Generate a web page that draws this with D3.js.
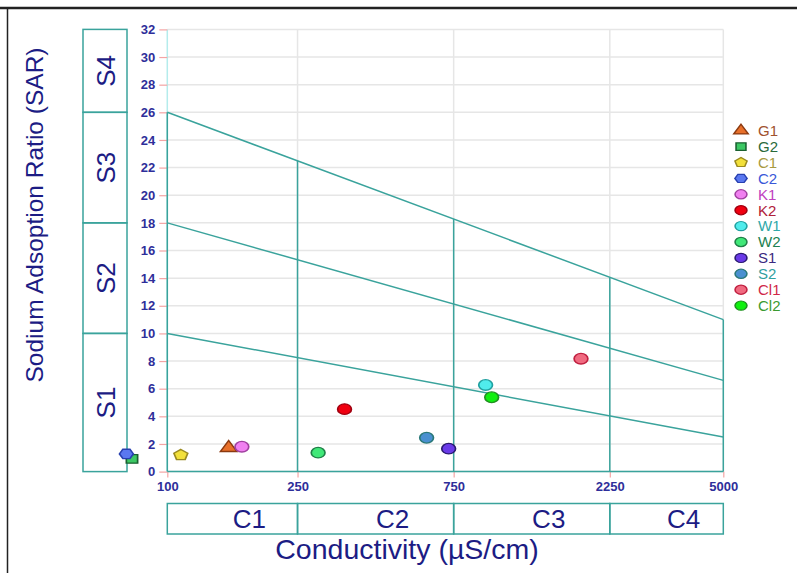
<!DOCTYPE html>
<html>
<head>
<meta charset="utf-8">
<script src="https://cdn.jsdelivr.net/npm/d3@7"></script>
<style>
  body { margin: 0; background: #fff; }
  svg { display: block; font-family: "Liberation Sans", Arial, sans-serif; }
</style>
</head>
<body>
<div id="chart"></div>
<script>
var sites = ["G1", "G2", "C1", "C2", "K1", "K2", "W1", "W2", "S1", "S2", "Cl1", "Cl2"];
var conductivity = [154, 78, 110, 75, 169, 348, 939, 289, 724, 620, 1837, 980];
var sar = [1.72, 0.92, 1.2, 1.28, 1.8, 4.52, 6.27, 1.37, 1.66, 2.45, 8.17, 5.38];

var xTicks = [100, 250, 750, 2250, 5000];
var yTicks = [0, 2, 4, 6, 8, 10, 12, 14, 16, 18, 20, 22, 24, 26, 28, 30, 32];

var sClasses = ["S1", "S2", "S3", "S4"];
var sBounds = [0, 10, 18, 26, 32];
var cClasses = ["C1", "C2", "C3", "C4"];
var cBounds = [100, 250, 750, 2250, 5000];
// SAR of each hazard boundary at 100 and at 5000 uS/cm
var hazardStart = [10, 18, 26];
var hazardEnd = [2.5, 6.6, 11.0];

// marker styles, same order as sites
var shapes = ["triangle", "square", "pentagon", "hexagon", "circle", "circle",
              "circle", "circle", "circle", "circle", "circle", "circle"];
var fills = ["#e8702a", "#3cc864", "#f2e03a", "#5a78f0", "#f080f0", "#f00010",
             "#50ecec", "#40e878", "#6a3ae8", "#4a90d0", "#f06a80", "#10f010"];
var strokes = ["#8b3a10", "#1a6030", "#9a8a20", "#2840b0", "#a040a0", "#a00010",
               "#20a0a0", "#208048", "#2a1a70", "#2a7878", "#c02040", "#209020"];
var labelColors = ["#a0522d", "#2a6a3a", "#a89a40", "#3a58d8", "#c040c0", "#b0203a",
                   "#30a8a8", "#208050", "#3a2a80", "#30a0a0", "#d02848", "#3a9a30"];

var width = 797, height = 573,
    teal = "#3aa39c",
    navy = "#1c1c84",
    tickBlue = "#2e2e9a";

var x = d3.scaleLog().domain([100, 5000]).range([167.3, 723.3]),
    y = d3.scaleLinear().domain([0, 32]).range([471.6, 29.4]);

function polygonType(n, rot) {
  return {
    draw: function(context, size) {
      var r = Math.sqrt(size / (n * 0.5 * Math.sin(2 * Math.PI / n)));
      for (var i = 0; i < n; i++) {
        var a = rot + i * 2 * Math.PI / n;
        if (i === 0) context.moveTo(r * Math.cos(a), r * Math.sin(a));
        else context.lineTo(r * Math.cos(a), r * Math.sin(a));
      }
      context.closePath();
    }
  };
}
var symbolTypes = {
  triangle: d3.symbolTriangle,
  square: d3.symbolSquare,
  pentagon: polygonType(5, -Math.PI / 2),
  hexagon: polygonType(6, 0),
  circle: d3.symbolCircle
};

// SAR along hazard boundary i at conductivity ec
function boundary(i, ec) {
  var t = (Math.log10(ec) - 2) / (Math.log10(5000) - 2);
  return hazardStart[i] + (hazardEnd[i] - hazardStart[i]) * t;
}

var svg = d3.select("#chart").append("svg")
    .attr("width", width)
    .attr("height", height);

// frame edges of the cropped figure
svg.append("line").attr("x1", 0).attr("x2", width).attr("y1", 8).attr("y2", 8)
  .attr("stroke", "#222").attr("stroke-width", 2.5);
svg.append("line").attr("x1", 7.5).attr("x2", 7.5).attr("y1", 8).attr("y2", height)
  .attr("stroke", "#222").attr("stroke-width", 1.5);

// grid
var grid = svg.append("g").attr("class", "grid");
grid.selectAll("line.h").data(yTicks).enter().append("line")
  .attr("class", "h")
  .attr("x1", x(100)).attr("x2", x(5000))
  .attr("y1", function(d) { return y(d); })
  .attr("y2", function(d) { return y(d); })
  .attr("stroke", "#e6e6e6").attr("stroke-width", 1.5);
grid.selectAll("line.v").data(xTicks.slice(1)).enter().append("line")
  .attr("class", "v")
  .attr("x1", function(d) { return x(d); })
  .attr("x2", function(d) { return x(d); })
  .attr("y1", y(32)).attr("y2", y(0))
  .attr("stroke", "#e6e6e6").attr("stroke-width", 1.5);
svg.append("line")
  .attr("x1", x(100)).attr("x2", x(100)).attr("y1", y(32)).attr("y2", y(0))
  .attr("stroke", "#b4ecec").attr("stroke-width", 1.5);

// axes
var yAxis = svg.append("g")
  .attr("transform", "translate(" + x(100) + ",0)")
  .call(d3.axisLeft(y).tickValues(yTicks).tickSize(8).tickPadding(4));
var xAxis = svg.append("g")
  .attr("transform", "translate(0," + y(0) + ")")
  .call(d3.axisBottom(x).tickValues(xTicks).tickFormat(d3.format("d")).tickSize(6).tickPadding(4));
[yAxis, xAxis].forEach(function(a) {
  a.select(".domain").remove();
  a.selectAll(".tick line").attr("stroke", "#f4a4a4").attr("stroke-width", 1.2);
  a.selectAll(".tick text")
    .attr("fill", tickBlue)
    .style("font-family", "'Liberation Sans', Arial, sans-serif")
    .style("font-size", "13px")
    .style("font-weight", "bold");
});

// hazard class boundaries
var bounds = svg.append("g").attr("class", "bounds")
  .attr("stroke", teal).attr("stroke-width", 1.5).attr("fill", "none");
hazardStart.forEach(function(s, i) {
  bounds.append("line")
    .attr("x1", x(100)).attr("y1", y(s))
    .attr("x2", x(5000)).attr("y2", y(hazardEnd[i]));
});
bounds.append("line")
  .attr("x1", x(100)).attr("x2", x(100)).attr("y1", y(0)).attr("y2", y(hazardStart[2]));
xTicks.slice(1).forEach(function(ec) {
  bounds.append("line")
    .attr("x1", x(ec)).attr("x2", x(ec))
    .attr("y1", y(0)).attr("y2", y(boundary(2, ec)));
});
bounds.append("line")
  .attr("x1", x(100)).attr("x2", x(5000)).attr("y1", y(0)).attr("y2", y(0));

// salinity class boxes on the left
var sBox = svg.append("g").attr("class", "s-box");
sClasses.forEach(function(c, i) {
  var top = y(sBounds[i + 1]), bot = y(sBounds[i]);
  sBox.append("rect")
    .attr("x", 83).attr("y", top)
    .attr("width", 44).attr("height", bot - top)
    .attr("fill", "none").attr("stroke", teal).attr("stroke-width", 1.5);
  sBox.append("text")
    .attr("transform", "translate(114.5," + ((top + bot) / 2) + ") rotate(-90)")
    .attr("text-anchor", "middle")
    .attr("fill", navy)
    .style("font-size", "26px")
    .text(c);
});

// conductivity class boxes at the bottom
var cBox = svg.append("g").attr("class", "c-box");
cClasses.forEach(function(c, i) {
  var left = x(cBounds[i]), right = x(cBounds[i + 1]);
  cBox.append("rect")
    .attr("x", left).attr("y", 503.5)
    .attr("width", right - left).attr("height", 30.5)
    .attr("fill", "none").attr("stroke", teal).attr("stroke-width", 1.5);
  cBox.append("text")
    .attr("x", (left + right) / 2 + 17)
    .attr("y", 528)
    .attr("text-anchor", "middle")
    .attr("fill", navy)
    .style("font-size", "26px")
    .text(c);
});

// axis titles
svg.append("text")
  .attr("x", 407).attr("y", 559)
  .attr("text-anchor", "middle")
  .attr("fill", navy)
  .style("font-size", "28.5px")
  .text("Conductivity (\u00b5S/cm)");
svg.append("text")
  .attr("transform", "translate(43,215) rotate(-90)")
  .attr("text-anchor", "middle")
  .attr("fill", navy)
  .style("font-size", "24.5px")
  .text("Sodium Adsoption Ratio (SAR)");

// samples
var symbol = d3.symbol();
var pts = svg.append("g").attr("class", "points");
sites.forEach(function(s, i) {
  var size = shapes[i] === "circle" ? 88 : shapes[i] === "triangle" ? 70 : 75;
  pts.append("path")
    .attr("d", symbol.type(symbolTypes[shapes[i]]).size(size)())
    .attr("transform", "translate(" + x(conductivity[i]) + "," + y(sar[i]) + ") scale(1.3,1)")
    .attr("fill", fills[i])
    .attr("stroke", strokes[i])
    .attr("stroke-width", 1.3);
});

// legend
var legend = svg.append("g").attr("class", "legend");
sites.forEach(function(s, i) {
  var cy = 130.7 + i * 15.9;
  var size = shapes[i] === "circle" ? 66 : shapes[i] === "triangle" ? 55 : 58;
  legend.append("path")
    .attr("d", symbol.type(symbolTypes[shapes[i]]).size(size)())
    .attr("transform", "translate(741," + cy + ") scale(1.3,1)")
    .attr("fill", fills[i])
    .attr("stroke", strokes[i])
    .attr("stroke-width", 1.2);
  legend.append("text")
    .attr("x", 758).attr("y", cy + 5.3)
    .attr("fill", labelColors[i])
    .style("font-size", "15px")
    .text(s);
});
</script>
</body>
</html>
